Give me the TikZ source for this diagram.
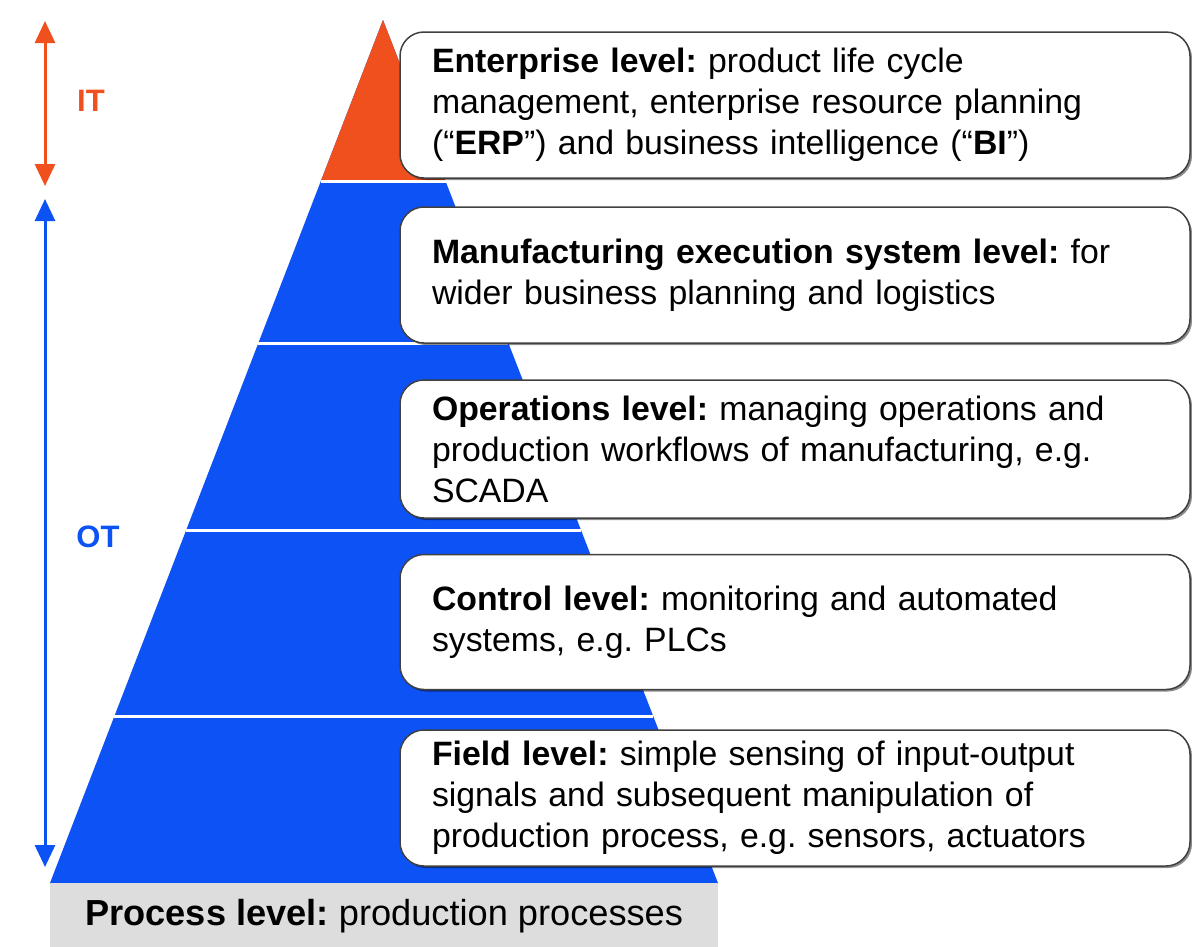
\documentclass[tikz,border=0pt]{standalone}
\usepackage{fontspec}
\setmainfont{Liberation Sans}
\usetikzlibrary{arrows.meta,shadows,calc}
\definecolor{itorange}{RGB}{240,80,30}
\definecolor{otblue}{RGB}{12,82,245}
\definecolor{procgray}{RGB}{221,221,221}
\frenchspacing

\begin{document}
\begin{tikzpicture}[x=1pt,y=-1pt,
		level/.style ={draw=black!75, line width=1.5pt, rounded corners=24pt, fill=white,
			align=left, text width=726pt, inner xsep=32pt, inner ysep=0pt,
			font=\fontsize{33.8}{41}\selectfont,
			drop shadow={shadow xshift=2pt, shadow yshift=-2pt, fill=black, opacity=0.45}},
		sep/.style ={white, line width=3pt},
		span/.style ={line width=3pt, {Triangle[width=20pt,length=22pt]}-{Triangle[width=20pt,length=22pt]}},
		tag/.style ={font=\fontsize{31}{36}\selectfont\bfseries}]
		\useasboundingbox (0,0) rectangle (1192,946);
		% pyramid
		\coordinate (apex) at (383,20);
		\coordinate (bl) at (50,883);
		\coordinate (br) at (718,883);
		\fill[otblue] (apex) -- (br) -- (bl) -- cycle;
		\fill[itorange] (apex) -- ($(apex)!0.1866!(br)$) -- ($(apex)!0.1866!(bl)$) -- cycle;
		\draw[sep] ($(apex)!0.1866!(bl)$) -- ($(apex)!0.1866!(br)$); % IT / OT
		\draw[sep] ($(apex)!0.3743!(bl)$) -- ($(apex)!0.3743!(br)$);
		\draw[sep] ($(apex)!0.5910!(bl)$) -- ($(apex)!0.5910!(br)$);
		\draw[sep] ($(apex)!0.8065!(bl)$) -- ($(apex)!0.8065!(br)$);
		% process level at the base
		\node[fill=procgray, anchor=north west, minimum width=668pt, minimum height=66pt,
			inner sep=0pt, font=\fontsize{36.2}{41}\selectfont] (proc) at (bl)
			{\textbf{Process level:} production processes};
		% level boxes
		\node[level, minimum height=146pt] (ent) at (795,105)
			{\textbf{Enterprise level:} product life cycle\\
			management, enterprise resource planning\\
			(``\textbf{ERP}'') and business intelligence (``\textbf{BI}'')};
		\node[level, minimum height=136pt] (mes) at (795,275)
			{\textbf{Manufacturing execution system level:} for\\
			wider business planning and logistics};
		\node[level, minimum height=138pt] (ops) at (795,449)
			{\textbf{Operations level:} managing operations and\\
			production workflows of manufacturing, e.g.\\
			SCADA};
		\node[level, minimum height=135pt] (ctl) at (795,622)
			{\textbf{Control level:} monitoring and automated\\
			systems, e.g. PLCs};
		\node[level, minimum height=136pt] (fld) at (795,798)
			{\textbf{Field level:} simple sensing of input-output\\
			signals and subsequent manipulation of\\
			production process, e.g. sensors, actuators};
		% IT / OT spans
		\coordinate (ittop) at (45,21);
		\coordinate (itbot) at (45,186);
		\coordinate (ottop) at (45,199);
		\coordinate (otbot) at (45,867);
		\draw[span, itorange] (ittop) -- (itbot);
		\draw[span, otblue] (ottop) -- (otbot);
		\node[tag, text=itorange] (it) at (91,101) {IT};
		\node[tag, text=otblue] (ot) at (98,537) {OT};
\end{tikzpicture}
\end{document}
